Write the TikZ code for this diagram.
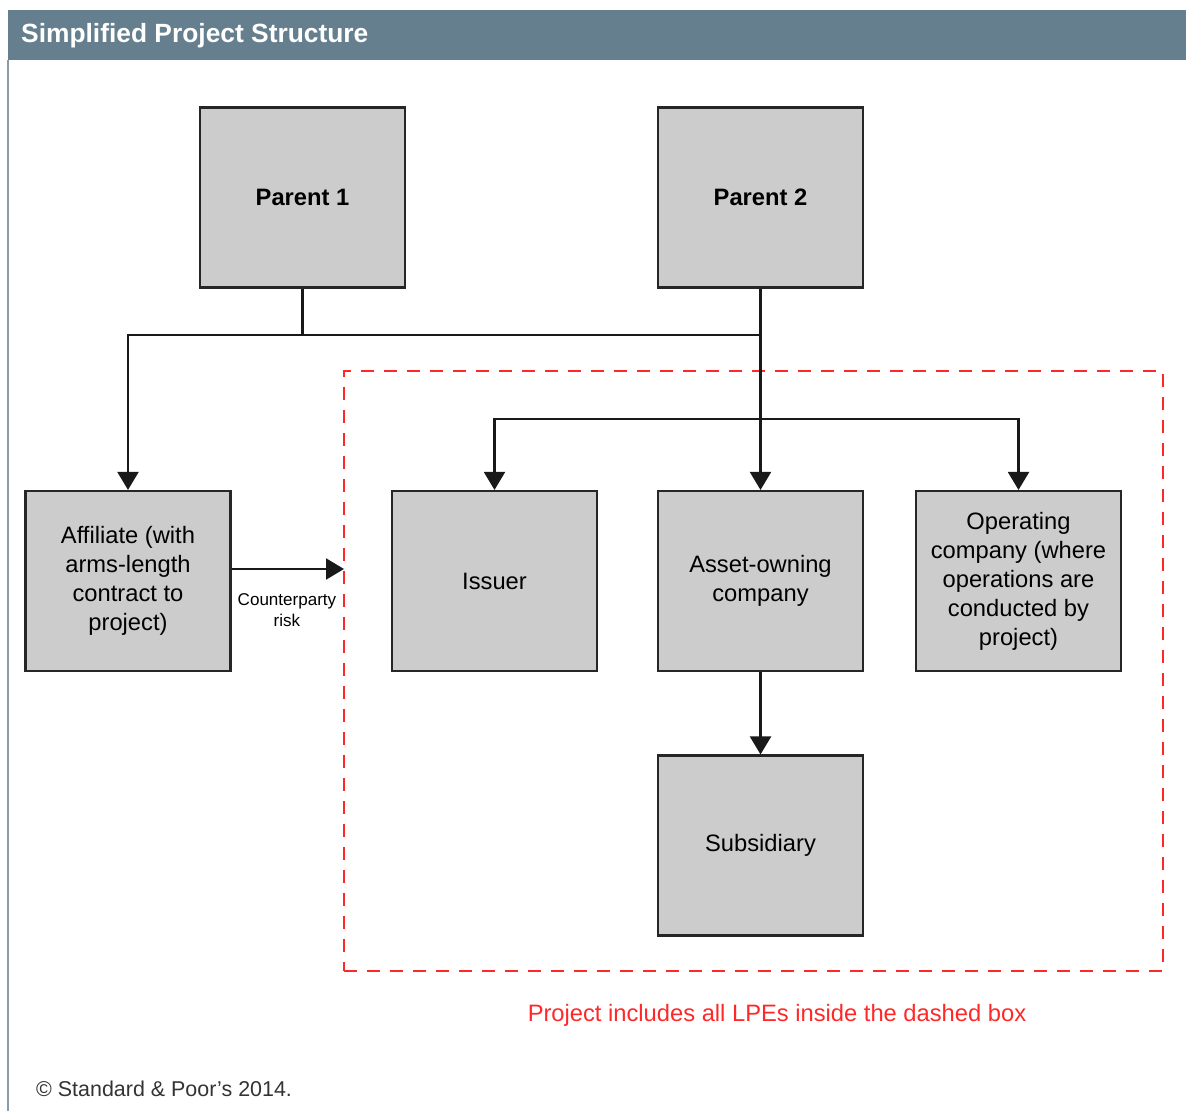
\documentclass[tikz,border=0pt]{standalone}
\usepackage{fontspec}
\setmainfont{Liberation Sans}
\usetikzlibrary{arrows.meta,positioning,calc}
\definecolor{headerblue}{RGB}{101,127,143}
\definecolor{boxgray}{RGB}{204,204,204}
\definecolor{edgegray}{RGB}{140,155,170}
\definecolor{projred}{RGB}{255,40,40}

\tikzset{
  entity/.style={rectangle,draw=black!85,fill=boxgray,line width=1.2pt,minimum width=4.1cm,minimum height=3.6cm,align=center,font=\fontsize{13.5}{16.5}\selectfont},
  link/.style={line width=1.2pt,draw=black!90},
  arrow/.style={link,-{Triangle[length=0.36cm,width=0.42cm]}}
}

\begin{document}
\begin{tikzpicture}
  \useasboundingbox (0,0) rectangle (23.72,-22.22);

  % Header bar and frame
  \fill[headerblue] (0.16,-0.2) rectangle (23.72,-1.2);
  \node[anchor=west,text=white,font=\fontsize{15}{18}\selectfont\bfseries] (title) at (0.3,-0.72) {Simplified Project Structure};
  \draw[edgegray,line width=0.8pt] (0.16,-1.2) -- (0.16,-22.22);

  % Project boundary
  \node[rectangle,draw=projred,dash pattern=on 0.26cm off 0.2cm,line width=0.85pt,minimum width=16.38cm,minimum height=12cm] (project) at (15.07,-13.42) {};

  % Entities
  \node[entity] (p1) at (6.05,-3.95) {\textbf{Parent 1}};
  \node[entity] (p2) at (15.21,-3.95) {\textbf{Parent 2}};
  \node[entity] (affil) at (2.56,-11.62) {Affiliate (with\\arms-length\\contract to\\project)};
  \node[entity] (issuer) at (9.89,-11.62) {Issuer};
  \node[entity] (asset) at (15.21,-11.62) {Asset-owning\\company};
  \node[entity] (oper) at (20.37,-11.62) {Operating\\company (where\\operations are\\conducted by\\project)};
  \node[entity] (subs) at (15.21,-16.91) {Subsidiary};

  % Ownership lines
  \coordinate (bus) at (15.21,-6.7);
  \coordinate (fork) at (15.21,-8.38);
  \coordinate (risk) at (6.88,-11.38);
  \draw[link] (p1.south) |- (bus);
  \draw[arrow] (bus) -| (affil.north);
  \draw[arrow] (p2.south) -- (asset.north);
  \draw[arrow] (fork) -| (issuer.north);
  \draw[arrow] (fork) -| (oper.north);
  \draw[arrow] (asset.south) -- (subs.north);
  \draw[arrow] (affil.east |- risk) -- (risk);

  % Labels
  \node[align=center,font=\fontsize{9.7}{12}\selectfont] (cprisk) at (5.74,-12.2) {Counterparty\\risk};
  \node[text=projred,font=\fontsize{13.5}{16}\selectfont] (note) at (15.54,-20.3) {Project includes all LPEs inside the dashed box};
  \node[anchor=west,text=black!80,font=\fontsize{12.2}{15}\selectfont] (copy) at (0.6,-21.78) {© Standard \& Poor’s 2014.};
\end{tikzpicture}
\end{document}
